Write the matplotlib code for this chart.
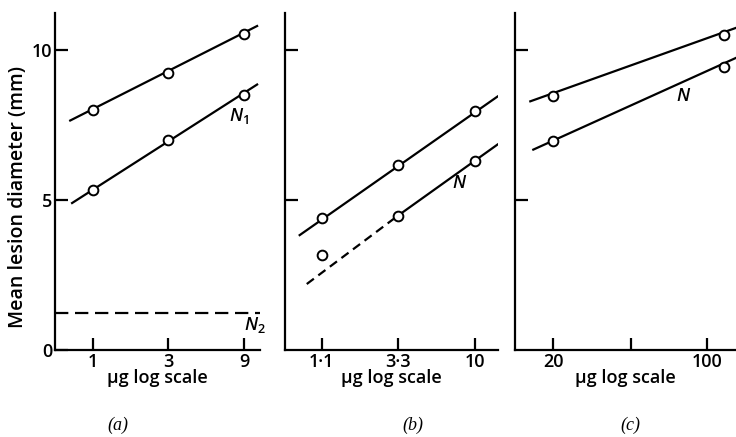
import numpy as np
import matplotlib.pyplot as plt

plt.rcParams['font.family'] = ['Open Sans', 'DejaVu Sans']
plt.rcParams['mathtext.fontset'] = 'custom'
plt.rcParams['mathtext.it'] = 'Open Sans:italic:semibold'
plt.rcParams['mathtext.rm'] = 'Open Sans:semibold'

# panel (a): doses and mean lesion diameters
a_dose = [1, 3, 9]
a_upper = [8.0, 9.25, 10.55]
a_lower = [5.32, 7.0, 8.5]
a_upper_line_x = [0.72, 10.9]
a_upper_line_y = [7.65, 10.8]
a_lower_line_x = [0.74, 10.9]
a_lower_line_y = [4.9, 8.85]
a_n2_level = 1.25
a_ticklabels = ['1', '3', '9']

# panel (b)
b_dose = [1.1, 3.3, 10]
b_upper = [4.41, 6.16, 7.97]
b_lower = [3.17, 4.48, 6.29]
b_upper_line_x = [0.80, 13.85]
b_upper_line_y = [3.83, 8.45]
b_lower_dash_x = [0.886, 3.3]
b_lower_dash_y = [2.2, 4.48]
b_lower_line_x = [3.3, 13.85]
b_lower_line_y = [4.48, 6.85]
b_ticklabels = ['1·1', '3·3', '10']

# panel (c)
c_dose = [20, 120]
c_upper = [8.48, 10.5]
c_lower = [6.97, 9.42]
c_upper_line_x = [15.7, 136]
c_upper_line_y = [8.29, 10.74]
c_lower_line_x = [16.2, 136]
c_lower_line_y = [6.68, 9.74]
c_ticks = [20, 45, 100]
c_ticklabels = ['20', '', '100']

fig = plt.figure(figsize=(7.36, 4.37), dpi=100)
bottom, height = 0.199, 0.771
ax_a = fig.add_axes([0.0747, bottom, 0.278, height])
ax_b = fig.add_axes([0.387, bottom, 0.289, height])
ax_c = fig.add_axes([0.700, bottom, 0.300, height])

lw = 1.6
mk = dict(marker='o', ms=7, mfc='white', mec='black', mew=1.4,
          linestyle='none', zorder=3)
fs = 13


def style(ax, xlim, xticks, xlabels, ylabels):
    ax.set_xscale('log')
    ax.set_xlim(*xlim)
    ax.set_ylim(0, 11.23)
    ax.spines['top'].set_visible(False)
    ax.spines['right'].set_visible(False)
    ax.spines['left'].set_linewidth(1.6)
    ax.spines['bottom'].set_linewidth(1.6)
    ax.set_xticks(xticks)
    ax.set_xticklabels(xlabels)
    ax.xaxis.set_minor_locator(plt.NullLocator())
    if ylabels:
        ax.set_yticks([0, 5, 10])
        ax.set_yticklabels(['0', '5', '10'])
    else:
        ax.set_yticks([5, 10])
        ax.set_yticklabels([])
    ax.tick_params(direction='in', length=9, width=1.6, labelsize=fs, pad=2)
    for t in ax.get_xticklabels() + ax.get_yticklabels():
        t.set_fontweight('semibold')
    ax.set_xlabel('µg log scale', fontsize=fs, fontweight='semibold',
                  labelpad=-1)
    ax.patch.set_visible(False)


# (a)
ax_a.plot(a_upper_line_x, a_upper_line_y, color='black', lw=lw)
ax_a.plot(a_lower_line_x, a_lower_line_y, color='black', lw=lw)
ax_a.plot(a_dose, a_upper, **mk)
ax_a.plot(a_dose, a_lower, **mk)
ax_a.axhline(a_n2_level, color='black', lw=lw, linestyle=(0, (6, 3)))
style(ax_a, (0.577, 11.3), a_dose, a_ticklabels, True)
ax_a.set_ylabel('Mean lesion diameter (mm)', fontsize=14,
                fontweight='semibold')
ax_a.yaxis.set_label_coords(-0.13, 0.454)
ax_a.text(8.4, 7.8, r'$N_1$', fontsize=fs, ha='center', va='center')
ax_a.text(10.6, 0.85, r'$N_2$', fontsize=fs, ha='center', va='center',
          clip_on=False)
ax_a.text(0.305, -0.223, '(a)', transform=ax_a.transAxes, fontsize=13,
          family='Liberation Serif', style='italic', ha='center', va='center')

# (b)
ax_b.plot(b_upper_line_x, b_upper_line_y, color='black', lw=lw)
ax_b.plot(b_lower_dash_x, b_lower_dash_y, color='black', lw=lw,
          linestyle=(0, (4, 2.5)))
ax_b.plot(b_lower_line_x, b_lower_line_y, color='black', lw=lw)
ax_b.plot(b_dose, b_upper, **mk)
ax_b.plot(b_dose, b_lower, **mk)
style(ax_b, (0.646, 13.85), b_dose, b_ticklabels, False)
ax_b.text(8.0, 5.58, r'$N$', fontsize=fs, ha='center', va='center')
ax_b.text(0.60, -0.223, '(b)', transform=ax_b.transAxes, fontsize=13,
          family='Liberation Serif', style='italic', ha='center', va='center')

# (c)
ax_c.plot(c_upper_line_x, c_upper_line_y, color='black', lw=lw)
ax_c.plot(c_lower_line_x, c_lower_line_y, color='black', lw=lw)
ax_c.plot(c_dose, c_upper, **mk)
ax_c.plot(c_dose, c_lower, **mk)
style(ax_c, (13.4, 135.8), c_ticks, c_ticklabels, False)
ax_c.text(78, 8.48, r'$N$', fontsize=fs, ha='center', va='center')
ax_c.text(0.52, -0.223, '(c)', transform=ax_c.transAxes, fontsize=13,
          family='Liberation Serif', style='italic', ha='center', va='center')

fig.savefig('out.png', dpi=100)
